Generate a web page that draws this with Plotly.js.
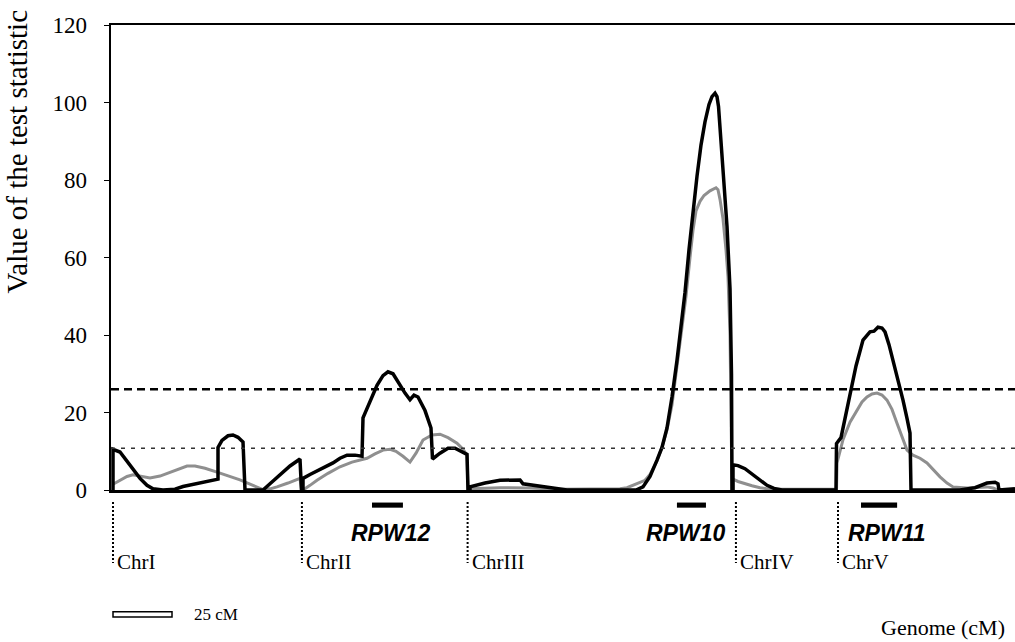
<!DOCTYPE html>
<html>
<head>
<meta charset="utf-8">
<script src="https://cdn.plot.ly/plotly-3.0.1.min.js"></script>
<style>html,body{margin:0;padding:0;background:#fff;}#chart{width:1015px;height:642px;}</style>
</head>
<body>
<div id="chart"></div>
<script>
// Genome position (cM) and test statistic, series 1 (black)
const blackX = [
  0.85,0.85,3.81,6.78,9.32,12.29,15.25,17.80,22.03,27.12,30.51,37.71,44.92,45.34,45.34,47.03,49.58,51.69,53.81,55.93,56.78,64.41,67.37,71.61,75.85,80.08,80.72,
  81.36,81.36,84.32,88.56,94.07,97.03,100.0,103.39,106.36,106.78,109.75,112.71,115.25,117.37,119.49,122.46,124.58,126.69,128.39,130.08,133.05,135.59,136.23,139.41,142.80,145.76,148.73,150.85,151.27,
  152.12,152.12,158.47,164.83,173.31,174.58,183.90,193.22,215.68,222.46,225.42,228.39,231.36,233.47,235.59,237.71,239.83,241.53,243.22,244.92,246.61,248.31,250.0,251.69,253.39,254.66,255.93,256.78,257.42,258.05,259.32,261.02,262.29,262.92,263.14,
  263.56,263.56,265.68,268.64,271.61,275.00,277.97,280.93,284.32,307.20,
  307.42,309.32,311.02,313.14,315.68,318.64,321.61,323.31,325.00,326.69,327.97,329.66,331.36,333.47,335.59,337.29,338.56,338.98,359.75,366.10,371.19,374.58,375.85,376.27,383.05
];
const blackY = [
  0,10.5,9.8,7.5,5.2,3,1.2,0.3,0,0.2,0.9,1.8,2.7,2.8,11,12.8,14,14.2,13.6,12.4,0,0,1.6,4,6.2,8,0,
  0,3,4,5.2,7,8.2,9,9,8.7,18.6,23,27,29.5,30.5,30,27,25,23.3,24.5,24,20.5,16,8,9.5,10.8,10.8,10,9.2,0,
  0,0.8,1.8,2.5,2.6,1.6,0.8,0,0,0,0.8,3.5,7.7,11,16,24,33.5,42,51,62,72,81,89,95,99.5,101.5,102.4,101.5,99,94,82,68,52,30,0,
  0,6.5,6.3,5.5,4.2,2.6,1.2,0.4,0,0,
  12,13.5,18.5,25,32,38.7,40.8,41,42,41.8,40.8,37.5,33.5,28,23.2,18.5,14.7,0,0,0.6,1.8,2,1.6,0,0.3
];
// series 2 (grey)
const grayX = [
  0.85,3.81,6.78,9.32,12.29,16.53,20.76,25.0,29.24,32.20,35.59,39.83,44.92,49.58,54.66,58.90,61.86,64.41,67.37,70.34,75.0,80.08,80.72,
  81.36,84.32,87.29,91.95,97.03,102.12,108.47,111.86,115.25,118.22,120.76,123.73,126.69,129.24,132.20,136.02,139.41,142.80,146.61,149.15,150.85,151.27,
  152.12,164.83,177.54,190.25,207.20,215.68,218.64,222.03,224.58,226.27,228.39,231.36,233.47,235.59,237.71,240.25,241.95,243.64,245.34,246.61,247.88,249.58,251.27,253.81,256.36,257.20,258.05,259.32,260.59,261.44,262.29,262.71,263.14,
  263.56,263.56,265.68,268.64,271.61,275.0,279.24,307.2,
  307.42,307.63,310.17,313.14,316.10,318.22,320.34,322.46,324.58,326.69,328.81,330.93,333.05,335.17,337.29,339.83,342.80,345.76,348.31,351.27,354.24,356.78,362.71,368.22,371.19,373.73,375.42,383.05
];
const grayY = [
  1.5,2.5,3.5,3.9,3.6,3.1,3.6,4.6,5.6,6.2,6.2,5.6,4.6,3.7,2.6,1.5,0.8,0.1,0.3,0.8,1.8,3,0,
  0,1.2,2.5,4.3,6,7.2,8.2,9.3,10.3,10.5,10,8.7,7.2,9.5,12.9,14.2,14.4,13.5,12.1,10.5,9,0,
  0.3,0.6,0.5,0.2,0.3,0.3,0.6,1.5,2,2.5,4,7.5,11,15.5,22,33.5,42,50,60,67,72,74.5,76,77.2,78,77.5,75,70,62,55,40,25,0,
  0,2.8,2.2,1.6,1.1,0.6,0.2,0.2,
  0,7,13,17.5,20.6,22.7,24,24.8,25,24.5,23.2,20.8,17.2,13.7,10.3,9,8.2,7,5.2,3.4,1.8,0.8,0.5,0.6,0.8,0.5,0.1,0.1
];
const thresholds = [26, 10.8];
const chrNames = ['ChrI','ChrII','ChrIII','ChrIV','ChrV'];
const chrStarts = [0.85, 80.9, 151.1, 264.8, 308.05];
const qtlNames = ['RPW12','RPW10','RPW11'];
const qtlStart = [110.6, 239.8, 317.8];
const qtlEnd = [123.7, 252.1, 333.1];
const qtlLabelX = [118.6, 243.6, 328.6];
const yTicks = [0, 20, 40, 60, 80, 100, 120];
const scaleBarCM = 25;
const genomeMax = 383.05;

const serif = 'Liberation Serif, Times New Roman, serif';
const traces = [
  {x: grayX, y: grayY, mode: 'lines', line: {color: '#8f8f8f', width: 3}, hoverinfo: 'skip', showlegend: false},
  {x: blackX, y: blackY, mode: 'lines', line: {color: '#000', width: 3.5}, hoverinfo: 'skip', showlegend: false}
];

const shapes = [];
shapes.push({type: 'line', xref: 'paper', x0: 0, x1: 1, yref: 'y', y0: thresholds[0], y1: thresholds[0], line: {color: '#000', width: 2.5, dash: '8px,5px'}});
shapes.push({type: 'line', xref: 'paper', x0: 0, x1: 1, yref: 'y', y0: thresholds[1], y1: thresholds[1], line: {color: '#333', width: 1.5, dash: '4px,6px'}});
chrStarts.forEach(c => shapes.push({type: 'line', xref: 'x', x0: c, x1: c, yref: 'paper', y0: -0.026, y1: -0.157, line: {color: '#000', width: 2, dash: '2px,2px'}}));
qtlStart.forEach((s, i) => shapes.push({type: 'rect', xref: 'x', x0: s, x1: qtlEnd[i], yref: 'paper', y0: -0.027, y1: -0.038, fillcolor: '#000', line: {width: 0}}));
shapes.push({type: 'rect', xref: 'x', x0: chrStarts[0], x1: chrStarts[0] + scaleBarCM, yref: 'paper', y0: -0.262, y1: -0.273, fillcolor: '#fff', line: {color: '#000', width: 1.5}});

const annotations = [];
annotations.push({text: 'Value of the test statistic', xref: 'paper', yref: 'paper', x: -0.1029, y: 0.728, textangle: -90, showarrow: false, xanchor: 'center', yanchor: 'middle', font: {family: serif, size: 29, color: '#000'}});
chrNames.forEach((n, i) => annotations.push({text: n, xref: 'x', x: chrStarts[i], xshift: 2, xanchor: 'left', yref: 'paper', y: -0.155, yanchor: 'middle', showarrow: false, font: {family: serif, size: 21, color: '#000'}}));
qtlNames.forEach((n, i) => annotations.push({text: '<b><i>' + n + '</i></b>', xref: 'x', x: qtlLabelX[i], xanchor: 'center', yref: 'paper', y: -0.0925, yanchor: 'middle', showarrow: false, font: {family: 'Liberation Sans, Arial, sans-serif', size: 23, color: '#000'}}));
annotations.push({text: scaleBarCM + ' cM', xref: 'paper', x: 0.0896, xanchor: 'left', yref: 'paper', y: -0.267, yanchor: 'middle', showarrow: false, font: {family: serif, size: 17, color: '#000'}});
annotations.push({text: 'Genome (cM)', xref: 'paper', x: 0.991, xanchor: 'right', yref: 'paper', y: -0.295, yanchor: 'middle', showarrow: false, font: {family: serif, size: 22, color: '#000'}});

const layout = {
  width: 1015, height: 642,
  margin: {l: 111, r: 0, t: 25, b: 152, pad: 0},
  paper_bgcolor: '#fff', plot_bgcolor: '#fff',
  showlegend: false,
  xaxis: {range: [0, genomeMax], showgrid: false, zeroline: false, showline: true, mirror: true, linecolor: '#000', linewidth: 2.5, ticks: '', showticklabels: false, fixedrange: true},
  yaxis: {range: [0, 120], tickvals: yTicks, ticktext: yTicks.map(String), showgrid: false, zeroline: false, showline: true, linecolor: '#000', linewidth: 2.5, ticks: 'outside', ticklen: 5, tickwidth: 1, tickcolor: '#000', ticklabelstandoff: 12, tickfont: {family: serif, size: 23, color: '#000'}, fixedrange: true},
  shapes: shapes,
  annotations: annotations
};
Plotly.newPlot('chart', traces, layout, {displayModeBar: false, staticPlot: true});
</script>
</body>
</html>
